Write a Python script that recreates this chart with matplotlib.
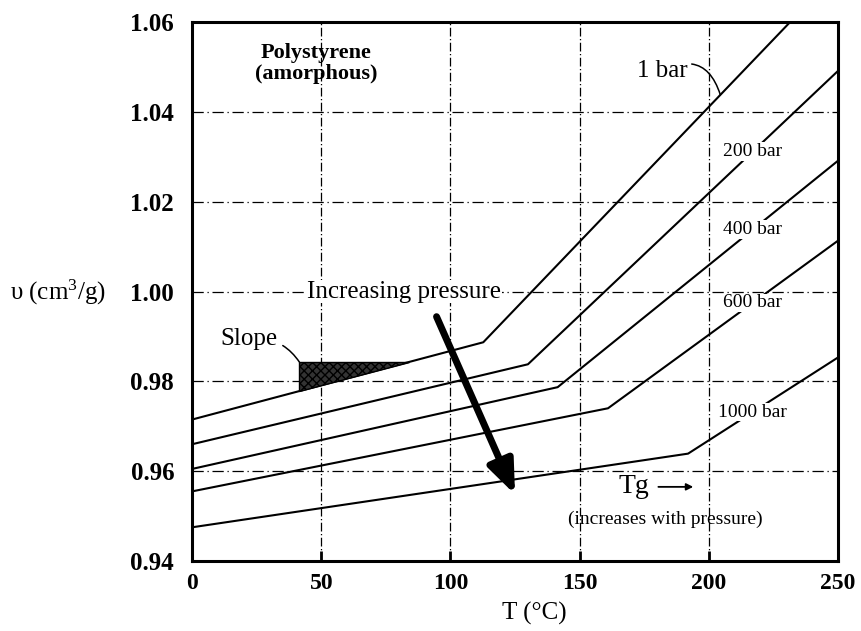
import numpy as np
import matplotlib
matplotlib.use('Agg')
import matplotlib.pyplot as plt
from matplotlib.patches import Polygon

plt.rcParams['font.family'] = ['Liberation Serif', 'DejaVu Serif']

# Specific volume isobars for amorphous polystyrene (start, Tg kink, end at 250 C)
pressures = ['1 bar', '200 bar', '400 bar', '600 bar', '1000 bar']
temps = [[0, 112.7, 250], [0, 130, 250], [0, 141.5, 250], [0, 161, 250], [0, 192, 250]]
volumes = [[0.9715, 0.9887, 1.0711], [0.966, 0.9838, 1.0491], [0.9605, 0.9787, 1.0291],
           [0.9555, 0.974, 1.0113], [0.9475, 0.9639, 0.9853]]

x_ticks = [0, 50, 100, 150, 200, 250]
y_ticks = [0.94, 0.96, 0.98, 1.00, 1.02, 1.04, 1.06]

fig = plt.figure(figsize=(8.62, 6.31), dpi=100)
ax = fig.add_axes([0.223, 0.111, 0.749, 0.854])

# grid, drawn as dash-dot lines like the print
for xv in x_ticks[1:-1]:
    ax.axvline(xv, color='black', lw=0.9, ls=(0, (7, 2, 1, 2)), zorder=1)
for yv in y_ticks[1:-1]:
    ax.axhline(yv, color='black', lw=0.9, ls=(0, (9, 3, 1, 3)), zorder=1)

for t, v in zip(temps, volumes):
    ax.plot(t, v, color='black', lw=1.5, zorder=3)

# inline pressure labels sitting on their curves
for name, t, v in zip(pressures[1:], temps[1:], volumes[1:]):
    xl = 217
    yl = np.interp(xl, t, v)
    ax.text(xl, yl, name, fontsize=14, ha='center', va='center', zorder=5,
            bbox=dict(facecolor='white', edgecolor='none', pad=0.5))

ax.annotate('1 bar', xy=(204.5, np.interp(204.5, temps[0], volumes[0])), xytext=(182, 1.049),
            fontsize=18, ha='center', va='center', zorder=5,
            arrowprops=dict(arrowstyle='-', lw=1.1, color='black',
                            connectionstyle='arc3,rad=-0.6', shrinkA=1, shrinkB=0))

ax.text(48, 1.0508, 'Polystyrene\n(amorphous)', fontsize=16, fontweight='bold',
        ha='center', va='center', linespacing=1.05, zorder=5)

ax.text(82, 1.000, 'Increasing pressure', fontsize=18, ha='center', va='center', zorder=5,
        bbox=dict(facecolor='white', edgecolor='none', pad=0.5))

# slope triangle under the 1 bar glass line
x0, x1 = 41.5, 83.8
y0 = np.interp(x0, temps[0], volumes[0])
y1 = np.interp(x1, temps[0], volumes[0])
tri = Polygon([[x0, y0], [x0, y1], [x1, y1]], closed=True, facecolor='0.2',
              edgecolor='black', hatch='xxxx', lw=1.0, zorder=4)
ax.add_patch(tri)
ax.annotate('Slope', xy=(x0, y1), xytext=(22, 0.9895), fontsize=18, ha='center',
            va='center', zorder=5,
            arrowprops=dict(arrowstyle='-', lw=1.1, color='black',
                            connectionstyle='arc3,rad=-0.3', shrinkA=2, shrinkB=0))

# big arrow for increasing pressure
ax.annotate('', xy=(125, 0.9548), xytext=(94.6, 0.9944), zorder=6,
            arrowprops=dict(arrowstyle='-|>,head_length=1.0,head_width=0.4', lw=5,
                            color='black', mutation_scale=20, shrinkA=0, shrinkB=0))

ax.text(171, 0.9565, 'Tg', fontsize=20, ha='center', va='center', zorder=5)
ax.annotate('', xy=(194, 0.9565), xytext=(180.5, 0.9565),
            arrowprops=dict(arrowstyle='-|>', lw=1.3, color='black', shrinkA=0, shrinkB=0))
ax.text(183, 0.9493, '(increases with pressure)', fontsize=14, ha='center', va='center',
        zorder=5)

ax.set_xlim(0, 250)
ax.set_ylim(0.94, 1.06)
ax.set_xticks(x_ticks)
ax.set_yticks(y_ticks)
ax.set_xticklabels([str(x) for x in x_ticks], fontsize=17, fontweight='bold')
ax.set_yticklabels(['%.2f' % y for y in y_ticks], fontsize=18, fontweight='bold')
ax.tick_params(axis='x', direction='in', length=7, width=2, pad=9)
ax.tick_params(axis='y', length=0, pad=13)
for s in ax.spines.values():
    s.set_linewidth(2.2)

fig.text(0.012, 1 - 292 / 631, 'υ (cm$\\mathregular{^3}$/g)', fontsize=18, ha='left',
         va='center')
fig.text(534 / 862, 1 - 613 / 631, 'T (°C)', fontsize=18, ha='center', va='center')

fig.savefig('out.png', dpi=100)
